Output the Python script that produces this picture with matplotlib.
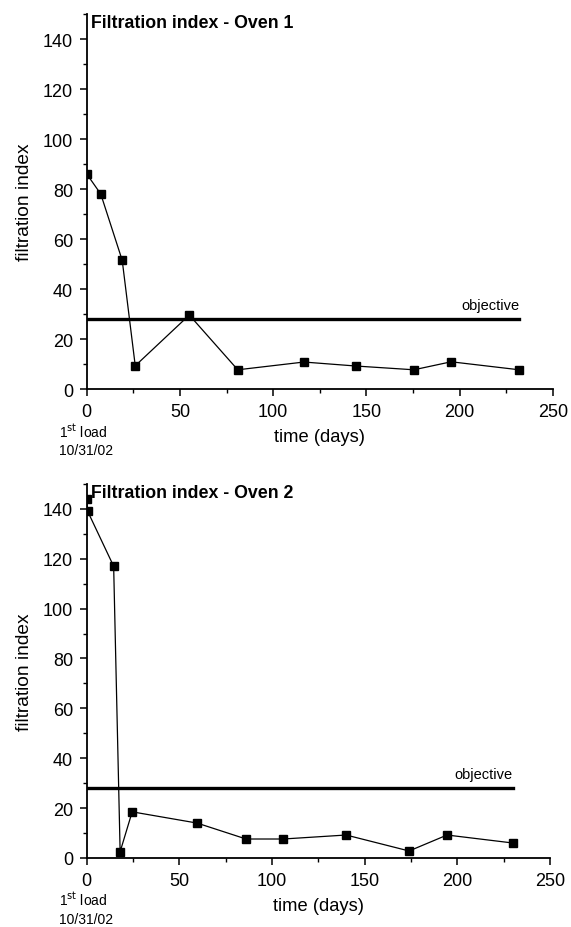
import numpy as np
import matplotlib.pyplot as plt
from matplotlib.ticker import MultipleLocator

plt.rcParams['font.family'] = ['Liberation Sans', 'DejaVu Sans']

# oven 1
days_1 = [0, 7.5, 19, 26, 55, 81, 116.5, 144.5, 175.5, 195.5, 232]
index_1 = [86, 78, 51.5, 9.3, 29.6, 7.7, 10.8, 9.2, 7.7, 10.9, 7.7]

# oven 2
days_2 = [0, 0.5, 14.5, 18, 24.5, 59.5, 86, 106, 140, 174, 194.5, 230]
index_2 = [144, 139, 117, 2.5, 18.5, 14, 7.6, 7.6, 9.2, 2.8, 9.2, 6]

objective = 28
obj_end = [232, 230]
titles = ['Filtration index - Oven 1', 'Filtration index - Oven 2']

fig = plt.figure(figsize=(5.71, 9.28), dpi=100)
ax1 = fig.add_axes([0.152, 0.5797, 0.816, 0.4041])
ax2 = fig.add_axes([0.152, 0.0744, 0.811, 0.403])

for ax, x, y, title, xend in zip([ax1, ax2], [days_1, days_2], [index_1, index_2], titles, obj_end):
    ax.plot(x, y, color='black', lw=0.9, marker='s', ms=5.3, mfc='black', mec='black')
    ax.plot([0, xend], [objective, objective], color='black', lw=2.4)
    ax.text(xend, objective + 3, 'objective', ha='right', va='bottom', fontsize=10.5)
    ax.set_xlim(0, 250)
    ax.set_ylim(0, 150)
    ax.xaxis.set_major_locator(MultipleLocator(50))
    ax.xaxis.set_minor_locator(MultipleLocator(25))
    ax.yaxis.set_major_locator(MultipleLocator(20))
    ax.yaxis.set_minor_locator(MultipleLocator(10))
    ax.spines['top'].set_visible(False)
    ax.spines['right'].set_visible(False)
    ax.spines['left'].set_linewidth(1.3)
    ax.spines['bottom'].set_linewidth(1.3)
    ax.tick_params(which='major', direction='out', length=5, width=1.1, labelsize=13, pad=5)
    ax.tick_params(which='minor', direction='out', length=3, width=1.0)
    ax.set_xlabel('time (days)', fontsize=13.2, labelpad=6)
    ax.set_ylabel('filtration index', fontsize=13.8, labelpad=7)
    ax.text(0.01, 1.0, title, transform=ax.transAxes, ha='left', va='top',
            fontsize=12.8, fontweight='bold')
    ax.text(-0.06, -0.11, r'1$^{\rm st}$ load', transform=ax.transAxes,
            ha='left', va='center', fontsize=10)
    ax.text(-0.06, -0.163, '10/31/02', transform=ax.transAxes,
            ha='left', va='center', fontsize=10)

fig.savefig('out.png', dpi=100)
